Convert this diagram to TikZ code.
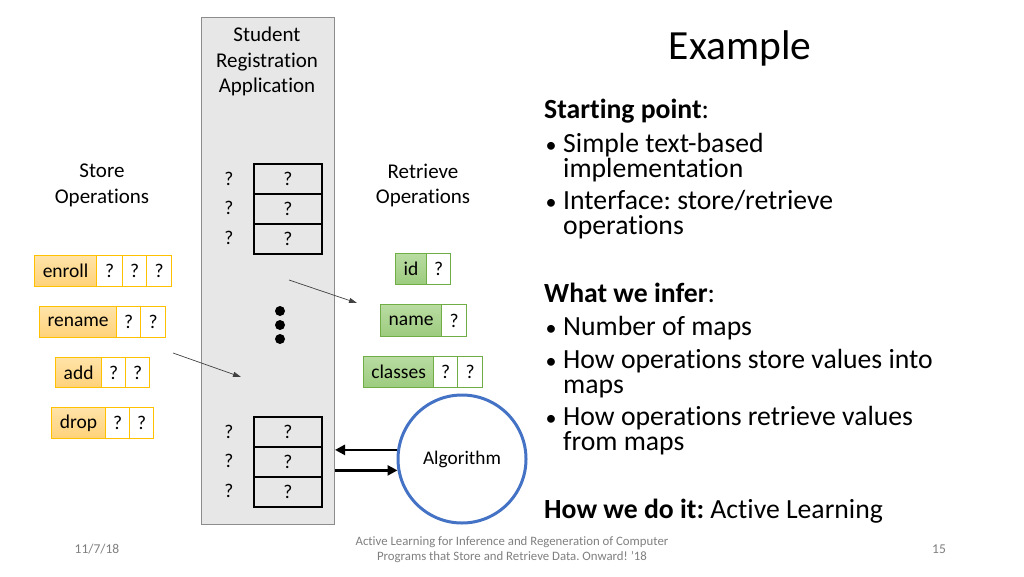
\documentclass[tikz,border=0pt]{standalone}
\usepackage{fontspec}
\setmainfont{Carlito}[Ligatures={NoCommon}]
\usetikzlibrary{arrows.meta,calc}
\frenchspacing
\definecolor{appfill}{HTML}{E7E7E7}
\definecolor{appdraw}{HTML}{8C8C8C}
\definecolor{yborder}{HTML}{FFC000}
\definecolor{ytop}{HTML}{FFE3A8}
\definecolor{ybot}{HTML}{FFD27A}
\definecolor{gborder}{HTML}{70AD47}
\definecolor{gtop}{HTML}{B9DCA2}
\definecolor{gbot}{HTML}{9CCB7E}
\definecolor{algblue}{HTML}{4472C4}
\definecolor{foot}{HTML}{7F7F7F}
\tikzset{
  lbl/.style={font=\fontsize{21}{25.5}\selectfont, align=center, inner sep=0},
  boxfont/.style={font=\fontsize{19.5}{22}\selectfont},
  ylab/.style={boxfont, draw=yborder, line width=1.2, top color=ytop, bottom color=ybot, anchor=north west, inner sep=0},
  ycell/.style={boxfont, draw=yborder, line width=1.2, fill=white, anchor=north west, inner sep=0},
  glab/.style={boxfont, draw=gborder, line width=1.2, top color=gtop, bottom color=gbot, anchor=north west, inner sep=0},
  gcell/.style={boxfont, draw=gborder, line width=1.2, fill=white, anchor=north west, inner sep=0},
  tcell/.style={boxfont, draw=black, line width=2, minimum width=68, minimum height=30, anchor=north west, inner sep=0},
  qmark/.style={boxfont, inner sep=0},
  dot/.style={circle, fill=black, minimum size=10, inner sep=0},
  thinarrow/.style={draw=black!75, line width=0.7, -{Triangle[length=8,width=5]}},
  thickarrow/.style={draw=black, line width=2.6, -{Triangle[length=10,width=10]}},
  body/.style={font=\fontsize{27.7}{22.5}\selectfont, anchor=base west, inner sep=0, text height=16, text depth=5},
  bul/.style={font=\fontsize{22}{22}\selectfont, anchor=base, inner sep=0},
  footer/.style={font=\fontsize{12.8}{15}\selectfont, text=foot, inner sep=0, align=center}
}
\begin{document}
\begin{tikzpicture}[x=1pt,y=-1pt]
\useasboundingbox (0,0) rectangle (1024,576);
% application column
\node[draw=appdraw, fill=appfill, line width=1, minimum width=133, minimum height=507, anchor=north west, inner sep=0] (app) at (201,17) {};
\node[lbl] (apptitle) at (267,61.5) {Student\\Registration\\Application};
% top table
\node[tcell] (t1) at (253,163) {?};
\node[tcell] (t2) at (253,193) {?};
\node[tcell] (t3) at (253,223) {?};
\node[qmark] (k1) at (229,179) {?};
\node[qmark] (k2) at (229,208) {?};
\node[qmark] (k3) at (229,238) {?};
% dots
\node[dot] (d1) at (280,311) {};
\node[dot] (d2) at (280,325) {};
\node[dot] (d3) at (280,339) {};
% bottom table
\node[tcell] (b1) at (253,416) {?};
\node[tcell] (b2) at (253,446) {?};
\node[tcell] (b3) at (253,476) {?};
\node[qmark] (bk1) at (229,432) {?};
\node[qmark] (bk2) at (229,461) {?};
\node[qmark] (bk3) at (229,491) {?};
% labels
\node[lbl] (store) at (102,185.5) {Store\\Operations};
\node[lbl] (retr) at (423,185.5) {Retrieve\\Operations};
% store operations
\node[ylab, minimum width=62, minimum height=31] (enroll) at (34,255) {enroll};
\node[ycell, minimum width=26, minimum height=31] (e1) at (96,255) {?};
\node[ycell, minimum width=24, minimum height=31] (e2) at (122,255) {?};
\node[ycell, minimum width=25, minimum height=31] (e3) at (146,255) {?};
\node[ylab, minimum width=77, minimum height=31] (rename) at (39,306) {rename};
\node[ycell, minimum width=24, minimum height=31] (r1) at (116,306) {?};
\node[ycell, minimum width=25, minimum height=31] (r2) at (140,306) {?};
\node[ylab, minimum width=46, minimum height=30] (add) at (55,357) {add};
\node[ycell, minimum width=24, minimum height=30] (a1) at (101,357) {?};
\node[ycell, minimum width=24, minimum height=30] (a2) at (125,357) {?};
\node[ylab, minimum width=54, minimum height=31] (drop) at (51,407) {drop};
\node[ycell, minimum width=24, minimum height=31] (dr1) at (105,407) {?};
\node[ycell, minimum width=24, minimum height=31] (dr2) at (129,407) {?};
% retrieve operations
\node[glab, minimum width=31, minimum height=31] (id) at (395,253) {id};
\node[gcell, minimum width=24, minimum height=31] (i1) at (426,253) {?};
\node[glab, minimum width=61, minimum height=32] (name) at (380,304) {name};
\node[gcell, minimum width=25, minimum height=32] (n1) at (441,304) {?};
\node[glab, minimum width=70, minimum height=31] (classes) at (363,356) {classes};
\node[gcell, minimum width=24, minimum height=31] (c1) at (433,356) {?};
\node[gcell, minimum width=25, minimum height=31] (c2) at (457,356) {?};
% thin arrows
\coordinate (s1) at (289,280);
\coordinate (s2) at (357,303);
\coordinate (s3) at (173,353);
\coordinate (s4) at (241,377);
\draw[thinarrow] (s1) -- (s2);
\draw[thinarrow] (s3) -- (s4);
% algorithm
\node[circle, draw=algblue, line width=3, minimum size=128, inner sep=0, font=\fontsize{19.3}{22}\selectfont] (alg) at (462,459) {Algorithm};
\draw[thickarrow] (alg.172.8) -- (app.east |- alg.172.8);
\draw[thickarrow] (app.east |- alg.190.8) -- (alg.190.8);
% right side
\node[font=\fontsize{41.5}{48}\selectfont, inner sep=0] (title) at (740,48) {Example};
\node[body] (sp) at (544,118) {\textbf{Starting point}:};
\node[bul] (bu1) at (551,152) {•};
\node[body] (l1) at (563,152) {Simple text-based};
\node[body] (l2) at (563,177) {implementation};
\node[bul] (bu2) at (551,209) {•};
\node[body] (l3) at (563,209) {Interface: store/retrieve};
\node[body] (l4) at (563,234) {operations};
\node[body] (wi) at (544,302) {\textbf{What we infer}:};
\node[bul] (bu3) at (551,335) {•};
\node[body] (l5) at (563,335) {Number of maps};
\node[bul] (bu4) at (551,368) {•};
\node[body] (l6) at (563,368) {How operations store values into};
\node[body] (l7) at (563,393) {maps};
\node[bul] (bu5) at (551,425) {•};
\node[body] (l8) at (563,425) {How operations retrieve values};
\node[body] (l9) at (563,450) {from maps};
\node[body] (how) at (544,518) {\textbf{How we do it:} Active Learning};
% footer
\node[footer, font=\fontsize{13.5}{15}\selectfont] (date) at (97,549) {11/7/18};
\node[footer] (cite) at (512,549.5) {Active Learning for Inference and Regeneration of Computer\\Programs that Store and Retrieve Data. Onward! '18};
\node[footer, font=\fontsize{13.5}{15}\selectfont] (page) at (939,549) {15};
\end{tikzpicture}
\end{document}
